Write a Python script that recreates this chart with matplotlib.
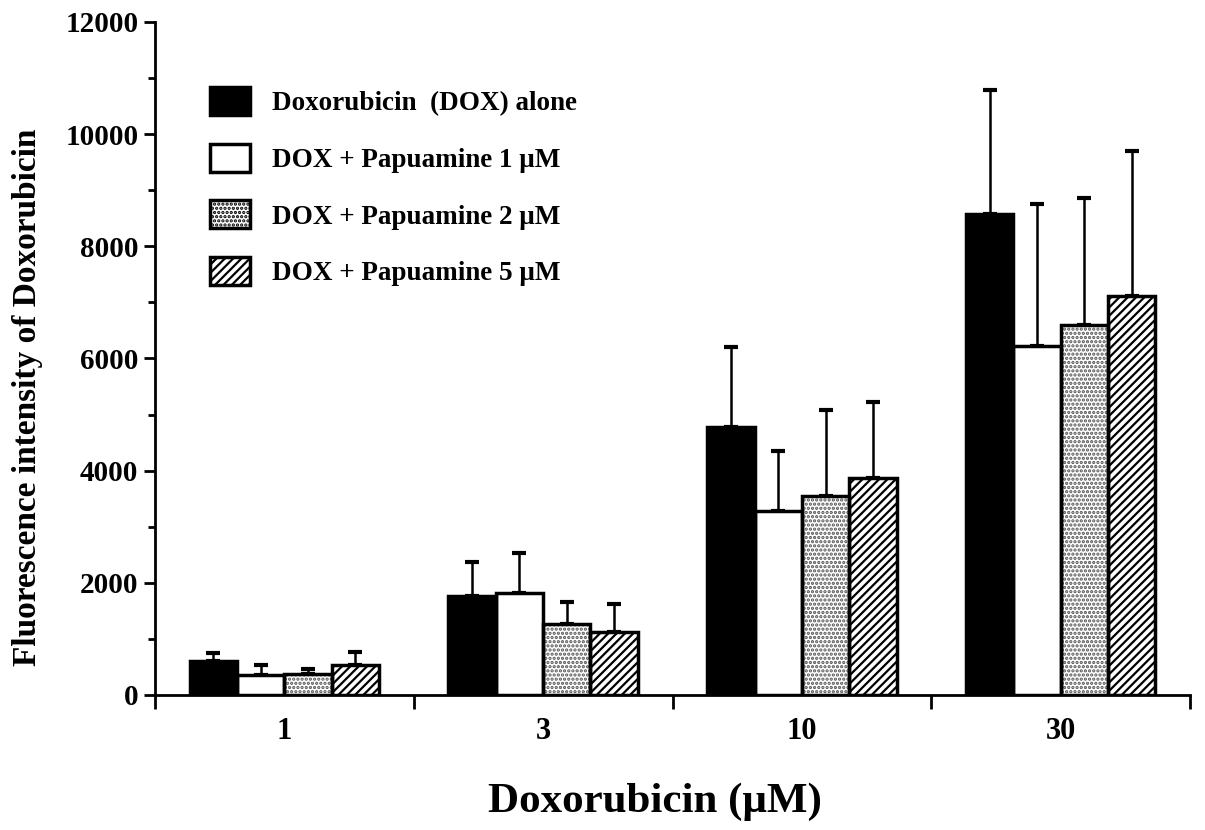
import numpy as np
import matplotlib.pyplot as plt
import matplotlib.ticker as ticker

plt.rcParams['font.family'] = ['Liberation Serif', 'DejaVu Serif']
plt.rcParams['font.weight'] = 'bold'
plt.rcParams['hatch.linewidth'] = 1.6

# Dados
doses = ['1', '3', '10', '30']
series = ['Doxorubicin  (DOX) alone', 'DOX + Papuamine 1 μM',
          'DOX + Papuamine 2 μM', 'DOX + Papuamine 5 μM']
dox_alone = [610, 1770, 4780, 8580]
dox_alone_sd = [130, 600, 1420, 2210]
pap_1 = [360, 1810, 3280, 6220]
pap_1_sd = [175, 720, 1070, 2540]
pap_2 = [370, 1265, 3540, 6600]
pap_2_sd = [100, 385, 1550, 2260]
pap_5 = [530, 1130, 3870, 7120]
pap_5_sd = [240, 500, 1360, 2580]

valores = [dox_alone, pap_1, pap_2, pap_5]
erros = [dox_alone_sd, pap_1_sd, pap_2_sd, pap_5_sd]
cores = ['black', 'white', 'white', 'white']
hachuras = [None, None, '....', '////']
cor_hachura = ['black', 'black', '#555555', 'black']

fig = plt.figure(figsize=(12.05, 8.3), dpi=100)
ax = fig.add_axes([0.1286, 0.1627, 0.859, 0.8108])

x = np.arange(len(doses))
largura = 0.183
for i in range(4):
    pos = x + (i - 1.5) * largura
    # preenchimento com hachura (cor própria) + contorno preto por cima
    ax.bar(pos, valores[i], largura, color=cores[i], edgecolor=cor_hachura[i],
           linewidth=0, hatch=hachuras[i], zorder=2)
    ax.bar(pos, valores[i], largura, fill=False, edgecolor='black',
           linewidth=2.5, zorder=3)
    ax.errorbar(pos, valores[i], yerr=[np.zeros(4), erros[i]], fmt='none',
                ecolor='black', elinewidth=1.8, capsize=5, capthick=3, zorder=1)

ax.set_xlim(-0.5, 3.5)
ax.set_ylim(0, 12000)
ax.yaxis.set_major_locator(ticker.MultipleLocator(2000))
ax.yaxis.set_minor_locator(ticker.MultipleLocator(1000))
ax.set_xticks(x)
ax.set_xticklabels(doses)
ax.set_xticks(np.arange(-0.5, 4, 1), minor=True)
ax.tick_params(axis='x', which='major', length=0, pad=16, labelsize=22)
ax.tick_params(axis='x', which='minor', length=10, width=2)
ax.tick_params(axis='y', which='major', length=8, width=2, labelsize=21, pad=4)
ax.tick_params(axis='y', which='minor', length=5, width=2)
for t in ax.get_xticklabels() + ax.get_yticklabels():
    t.set_fontweight('bold')

ax.spines['top'].set_visible(False)
ax.spines['right'].set_visible(False)
ax.spines['left'].set_linewidth(2)
ax.spines['bottom'].set_linewidth(2)

ax.set_xlabel('Doxorubicin (μM)', fontsize=31, fontweight='bold')
ax.xaxis.set_label_coords(0.483, -0.13)
ax.set_ylabel('Fluorescence intensity of Doxorubicin', fontsize=24,
              fontweight='bold')
ax.yaxis.set_label_coords(-0.108, 0.443)

handles = [plt.Rectangle((0, 0), 1, 1, facecolor=cores[i], edgecolor='black',
                         linewidth=2.5, hatch=hachuras[i]) for i in range(4)]
leg = ax.legend(handles, series, loc='upper left', bbox_to_anchor=(0.03, 0.94),
                frameon=False, fontsize=19.5, handlelength=1.48, handleheight=1.22,
                labelspacing=1.02, handletextpad=0.8)
for t in leg.get_texts():
    t.set_fontweight('bold')

plt.savefig('out.png', dpi=100)
